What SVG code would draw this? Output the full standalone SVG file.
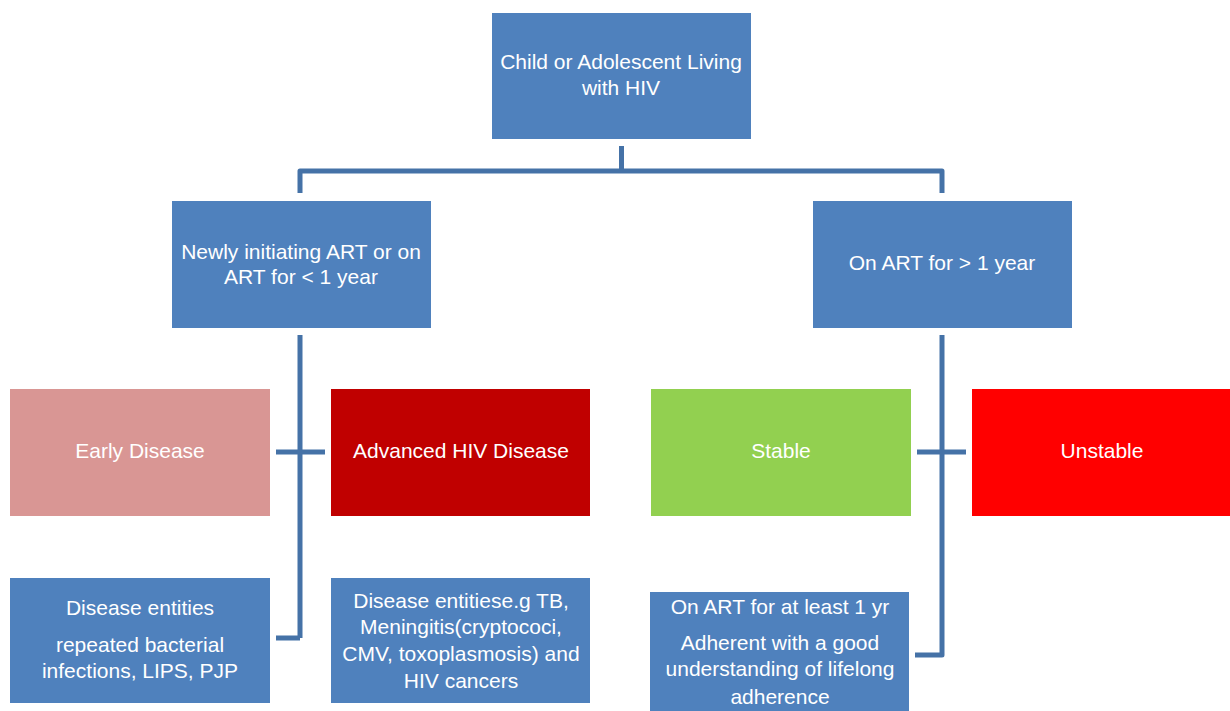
<svg xmlns="http://www.w3.org/2000/svg" width="1230" height="711" viewBox="0 0 1230 711">
<style>
.b{fill:#4F81BD}
.t{font-family:"Liberation Sans",Arial,sans-serif;font-size:21px;fill:#fff;text-anchor:middle}
.c{fill:none;stroke:#4572A7;stroke-width:5;stroke-linejoin:round}
</style>
<rect width="1230" height="711" fill="#fff"/>
<g id="connectors">
<path class="c" d="M621.5,146 V171 M300,193 V171 H942 V193"/>
<path class="c" d="M300,335 V638 M276,452 H325 M276,638 H300"/>
<path class="c" d="M942,335 V655 H915 M917,452 H966"/>
</g>
<g id="root"><rect class="b" x="492" y="13" width="259" height="126"/>
<text class="t" x="621" y="69">Child or Adolescent Living</text><text class="t" x="621" y="95">with HIV</text></g>
<g id="new-art"><rect class="b" x="172" y="201" width="259" height="127"/>
<text class="t" x="301" y="259">Newly initiating ART or on</text><text class="t" x="301" y="284">ART for &lt; 1 year</text></g>
<g id="on-art"><rect class="b" x="813" y="201" width="259" height="127"/>
<text class="t" x="942" y="270">On ART for &gt; 1 year</text></g>
<g id="early"><rect x="10" y="389" width="260" height="127" fill="#D99694"/>
<text class="t" x="140" y="458">Early Disease</text></g>
<g id="advanced"><rect x="331" y="389" width="259" height="127" fill="#C00000"/>
<text class="t" x="461" y="458">Advanced HIV Disease</text></g>
<g id="stable"><rect x="651" y="389" width="260" height="127" fill="#92D050"/>
<text class="t" x="781" y="458">Stable</text></g>
<g id="unstable"><rect x="972" y="389" width="258" height="127" fill="#FF0000"/>
<text class="t" x="1102" y="458">Unstable</text></g>
<g id="early-entities"><rect class="b" x="10" y="578" width="260" height="125"/>
<text class="t" x="140" y="615">Disease entities</text><text class="t" x="140" y="652">repeated bacterial</text><text class="t" x="140" y="678">infections, LIPS, PJP</text></g>
<g id="advanced-entities"><rect class="b" x="331" y="578" width="259" height="125"/>
<text class="t" x="461" y="608">Disease entitiese.g TB,</text><text class="t" x="461" y="634">Meningitis(cryptococi,</text><text class="t" x="461" y="661">CMV, toxoplasmosis) and</text><text class="t" x="461" y="688">HIV cancers</text></g>
<g id="stable-criteria"><rect class="b" x="650" y="592" width="259" height="125"/>
<text class="t" x="780" y="614">On ART for at least 1 yr</text><text class="t" x="780" y="650">Adherent with a good</text><text class="t" x="780" y="676">understanding of lifelong</text><text class="t" x="780" y="704">adherence</text></g>
</svg>
